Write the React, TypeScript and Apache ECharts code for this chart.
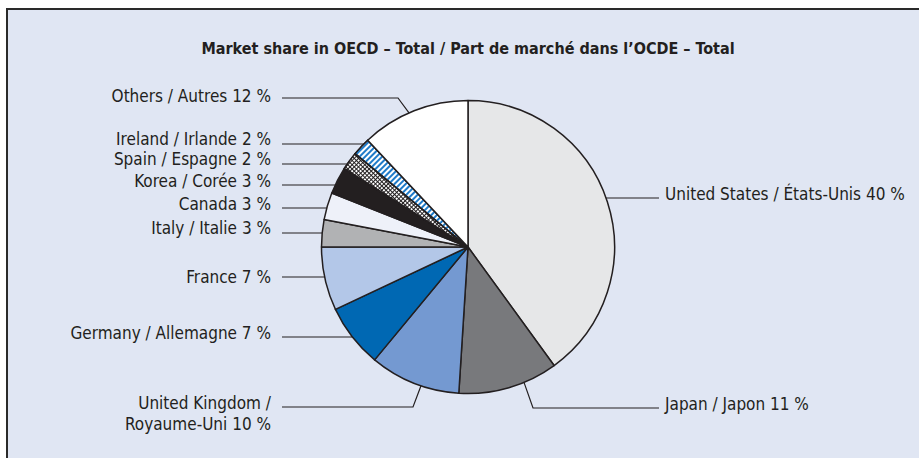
import React, { useEffect, useRef } from "react";
import * as echarts from "echarts";

const TITLE = "Market share in OECD – Total / Part de marché dans l’OCDE – Total";
const categories = [
  "United States / États-Unis",
  "Japan / Japon",
  "United Kingdom /\nRoyaume-Uni",
  "Germany / Allemagne",
  "France",
  "Italy / Italie",
  "Canada",
  "Korea / Corée",
  "Spain / Espagne",
  "Ireland / Irlande",
  "Others / Autres",
];
const shares = [40, 11, 10, 7, 7, 3, 3, 3, 2, 2, 12];

// styles (kept apart from data)
const SLICE_COLORS = [
  "#e6e7e8", "#78797c", "#7499d1", "#0068b3", "#b3c7e8", "#b1b2b4",
  "#eef1f9", "#231f20", "#231f20", "#ffffff", "#ffffff",
];
const FONT = "'Liberation Sans Narrow', 'DejaVu Sans Condensed', 'Roboto Condensed', sans-serif";
const INK = "#231f20";

// label layout: side, text centre y, line y, anchor on circle
type LL = { side: "L" | "R"; textY: number; lineY: number; anchorX?: number; half?: "top" | "bottom"; elbow?: number };
const LABEL_LAYOUT: LL[] = [
  { side: "R", textY: 194, lineY: 198 },
  { side: "R", textY: 404, lineY: 408, anchorX: 524, half: "bottom", elbow: 533 },
  { side: "L", textY: 413, lineY: 407, anchorX: 421, half: "bottom", elbow: 413 },
  { side: "L", textY: 333, lineY: 337 },
  { side: "L", textY: 277, lineY: 277 },
  { side: "L", textY: 228, lineY: 233 },
  { side: "L", textY: 204, lineY: 208 },
  { side: "L", textY: 181, lineY: 185 },
  { side: "L", textY: 159, lineY: 164 },
  { side: "L", textY: 139, lineY: 144 },
  { side: "L", textY: 96, lineY: 98, anchorX: 409, half: "top", elbow: 398 },
];
const CX = 468;
const CY = 247;
const R = 146.5;
const LEFT_TEXT_X = 271;
const LEFT_LINE_X = 282;
const RIGHT_LINE_X = 659;
const RIGHT_TEXT_X = 665;

export default function App() {
  const ref = useRef<HTMLDivElement>(null);
  useEffect(() => {
    if (!ref.current) return;
    const chart = echarts.init(ref.current, undefined, { renderer: "svg" });
    const data = categories.map((name, i) => {
      const item: any = {
        name,
        value: shares[i],
        itemStyle: { color: SLICE_COLORS[i] },
      };
      if (i === 8) {
        item.itemStyle.decal = {
          symbol: "rect",
          symbolSize: 1,
          dashArrayX: [2, 1],
          dashArrayY: [2, 1],
          rotation: Math.PI / 4,
          color: "#ffffff",
          backgroundColor: "#231f20",
        };
      }
      if (i === 9) {
        item.itemStyle.decal = {
          symbol: "rect",
          symbolSize: 1,
          dashArrayX: [1, 0],
          dashArrayY: [2, 1.2],
          rotation: -Math.PI / 4,
          color: "#1f7bc9",
          backgroundColor: "#ffffff",
        };
      }
      return item;
    });
    chart.setOption({
      animation: false,
      title: {
        text: TITLE,
        left: 463,
        top: 35,
        textAlign: "center",
        textStyle: { fontFamily: FONT, fontSize: 16, fontWeight: "bold", color: INK },
      },
      series: [
        {
          type: "pie",
          center: [CX, CY],
          radius: [0, R],
          startAngle: 90,
          clockwise: true,
          avoidLabelOverlap: false,
          data,
          itemStyle: { borderColor: INK, borderWidth: 1.5 },
          emphasis: { disabled: true },
          label: {
            show: true,
            position: "outside",
            fontFamily: FONT,
            fontSize: 17,
            lineHeight: 21,
            color: INK,
            formatter: (p: any) => `${p.name} ${p.value} %`,
          },
          labelLine: { show: true, lineStyle: { color: INK, width: 1.2 } },
          labelLayout: (p: any) => {
            const L = LABEL_LAYOUT[p.dataIndex];
            const left = L.side === "L";
            let p0: number[];
            if (L.anchorX != null) {
              const dx = L.anchorX - CX;
              const dy = Math.sqrt(Math.max(R * R - dx * dx, 0));
              p0 = [L.anchorX, L.half === "top" ? CY - dy : CY + dy];
            } else {
              const dy = L.lineY - CY;
              const dx = Math.sqrt(Math.max(R * R - dy * dy, 0));
              p0 = [left ? CX - dx : CX + dx, L.lineY];
            }
            const endX = left ? LEFT_LINE_X : RIGHT_LINE_X;
            const pts =
              L.elbow != null
                ? [p0, [L.elbow, L.lineY], [endX, L.lineY]]
                : [p0, [endX, L.lineY], [endX, L.lineY]];
            return {
              x: left ? LEFT_TEXT_X : RIGHT_TEXT_X,
              y: L.textY,
              align: left ? "right" : "left",
              verticalAlign: "middle",
              labelLinePoints: pts,
            };
          },
        },
      ],
    });
    return () => chart.dispose();
  }, []);
  return (
    <div style={{ position: "fixed", left: 0, top: 0, width: 919, height: 458, background: "#ffffff", overflow: "hidden" }}>
      <div
        style={{
          position: "absolute",
          left: 6,
          top: 8,
          width: 940,
          height: 480,
          border: "2px solid #2a2a2a",
          background: "#e0e6f3",
        }}
      />
      <div ref={ref} style={{ position: "absolute", left: 0, top: 0, width: 919, height: 458 }} />
    </div>
  );
}
